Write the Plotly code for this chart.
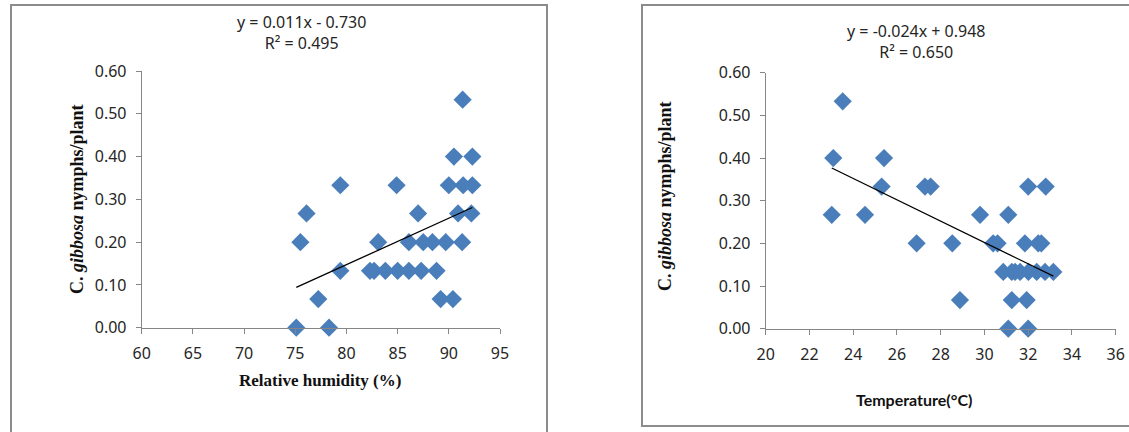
import numpy as np
import plotly.graph_objects as go

# ---- data ----
rh_x = [75.1, 78.3,
        77.25, 89.2, 90.4,
        79.4, 82.3, 82.7, 83.8, 85.0, 86.1, 87.3, 88.8,
        75.5, 83.1, 86.1, 87.5, 88.4, 89.7, 91.3,
        76.1, 87.0, 90.9, 92.2,
        79.4, 84.9, 90.0, 91.4, 92.3,
        90.5, 92.3,
        91.35]
rh_y = [0.0, 0.0,
        0.067, 0.067, 0.067,
        0.133, 0.133, 0.133, 0.133, 0.133, 0.133, 0.133, 0.133,
        0.2, 0.2, 0.2, 0.2, 0.2, 0.2, 0.2,
        0.267, 0.267, 0.267, 0.267,
        0.333, 0.333, 0.333, 0.333, 0.333,
        0.4, 0.4,
        0.533]

temp_x = [23.52,
          23.09, 25.41,
          25.3, 27.28, 27.54, 32.0, 32.8,
          23.02, 24.54, 29.8, 31.09,
          26.9, 28.53, 30.4, 30.6, 31.85, 32.46, 32.6,
          30.86, 31.25, 31.4, 31.63, 32.01, 32.39, 32.77, 33.15,
          28.88, 31.25, 31.93,
          31.09, 32.0]
temp_y = [0.533,
          0.4, 0.4,
          0.333, 0.333, 0.333, 0.333, 0.333,
          0.267, 0.267, 0.267, 0.267,
          0.2, 0.2, 0.2, 0.2, 0.2, 0.2, 0.2,
          0.133, 0.133, 0.133, 0.133, 0.133, 0.133, 0.133, 0.133,
          0.067, 0.067, 0.067,
          0.0, 0.0]

y_ticks = [0.0, 0.1, 0.2, 0.3, 0.4, 0.5, 0.6]
rh_ticks = [60, 65, 70, 75, 80, 85, 90, 95]
temp_ticks = [20, 22, 24, 26, 28, 30, 32, 34, 36]

eq_rh = "y = 0.011x - 0.730<br>R² = 0.495"
eq_temp = "y = -0.024x + 0.948<br>R² = 0.650"
y_title = "<b>C. <i>gibbosa</i> nymphs/plant</b>"
rh_title = "<b>Relative humidity (%)</b>"
temp_title = "<b>Temperature(°C)</b>"

# ---- layout geometry (pixels) ----
W, H = 1129, 432
def px(x):
    return x / W
def py(y):
    return 1 - y / H

BLUE = "#4A7EBB"
AX = "#868686"
TXT = "#262626"
TICKFONT = dict(family="Noto Sans", size=16, color=TXT)

fig = go.Figure()

def add_panel(xs, ys, xaxis, yaxis):
    fig.add_trace(go.Scatter(
        x=xs, y=ys, mode="markers", xaxis=xaxis, yaxis=yaxis,
        marker=dict(symbol="diamond", size=14, color=BLUE,
                    line=dict(width=0)),
        cliponaxis=False, showlegend=False, hoverinfo="x+y"))
    k, b = np.polyfit(np.array(xs), np.array(ys), 1)
    x0, x1 = min(xs), max(xs)
    fig.add_trace(go.Scatter(
        x=[x0, x1], y=[k * x0 + b, k * x1 + b], mode="lines",
        xaxis=xaxis, yaxis=yaxis,
        line=dict(color="#000000", width=1.3),
        showlegend=False, hoverinfo="skip"))

add_panel(rh_x, rh_y, "x", "y")
add_panel(temp_x, temp_y, "x2", "y2")

common_axis = dict(showline=True, linecolor=AX, linewidth=1, ticks="outside",
                   ticklen=5, tickcolor=AX, tickwidth=1, showgrid=False,
                   zeroline=False, tickfont=TICKFONT, fixedrange=True,
                   automargin=False)

fig.update_layout(
    width=W, height=H,
    margin=dict(l=0, r=0, t=0, b=0, autoexpand=False),
    paper_bgcolor="white", plot_bgcolor="white",
    xaxis=dict(domain=[px(141.7), px(500)], range=[60, 95],
               tickvals=rh_ticks, anchor="y", ticklabelstandoff=6, **common_axis),
    yaxis=dict(domain=[py(327.7), py(71)], range=[0, 0.6],
               tickvals=y_ticks, tickformat=".2f", anchor="x",
               ticklabelstandoff=6, **common_axis),
    xaxis2=dict(domain=[px(765.7), px(1115.7)], range=[20, 36],
                tickvals=temp_ticks, anchor="y2", ticklabelstandoff=6, **common_axis),
    yaxis2=dict(domain=[py(328.7), py(72.7)], range=[0, 0.6],
                tickvals=y_ticks, tickformat=".2f", anchor="x2",
                ticklabelstandoff=6, **common_axis),
)

# chart area borders
fig.add_shape(type="rect", xref="paper", yref="paper",
              x0=px(11), x1=px(547), y0=py(445), y1=py(5),
              line=dict(color="#8C8C8C", width=2), fillcolor="rgba(0,0,0,0)")
fig.add_shape(type="rect", xref="paper", yref="paper",
              x0=px(642), x1=px(1145), y0=py(426), y1=py(5),
              line=dict(color="#8C8C8C", width=2), fillcolor="rgba(0,0,0,0)")

ann = []
ann.append(dict(text=eq_rh, x=px(301), y=py(32), xref="paper", yref="paper",
                showarrow=False, font=dict(family="Noto Sans", size=16, color=TXT),
                align="center", xanchor="center", yanchor="middle"))
ann.append(dict(text=eq_temp, x=px(916), y=py(41), xref="paper", yref="paper",
                showarrow=False, font=dict(family="Noto Sans", size=16, color=TXT),
                align="center", xanchor="center", yanchor="middle"))
ann.append(dict(text=y_title, x=px(77), y=py(199), xref="paper", yref="paper",
                showarrow=False, textangle=-90,
                font=dict(family="Liberation Serif", size=18, color="#111111"),
                xanchor="center", yanchor="middle"))
ann.append(dict(text=y_title, x=px(665), y=py(196), xref="paper", yref="paper",
                showarrow=False, textangle=-90,
                font=dict(family="Liberation Serif", size=18, color="#111111"),
                xanchor="center", yanchor="middle"))
ann.append(dict(text=rh_title, x=px(320), y=py(380), xref="paper", yref="paper",
                showarrow=False,
                font=dict(family="Liberation Serif", size=17, color="#111111"),
                xanchor="center", yanchor="middle"))
ann.append(dict(text=temp_title, x=px(913.5), y=py(399), xref="paper", yref="paper",
                showarrow=False,
                font=dict(family="Lato", size=16, color="#111111"),
                xanchor="center", yanchor="middle"))
fig.update_layout(annotations=ann)

fig.write_html(
    "out.html",
    config={"displayModeBar": False},
    post_script="document.body.style.margin='0';document.body.style.overflow='hidden';",
)
